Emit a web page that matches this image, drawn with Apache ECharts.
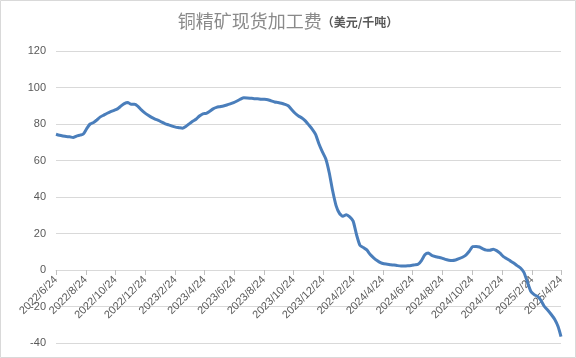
<!DOCTYPE html>
<html><head><meta charset="utf-8">
<script src="https://cdn.jsdelivr.net/npm/echarts@6/dist/echarts.min.js"></script>
<style>html,body{margin:0;padding:0;background:#fff}#c{width:576px;height:358px}</style>
</head><body><div id="c"></div>
<script>
const titleMain = '铜精矿现货加工费';
const titleUnit = '（美元/千吨）';
const dates = [
'2022-06-24','2022-07-01','2022-07-08','2022-07-15','2022-07-22','2022-07-29','2022-08-05','2022-08-12','2022-08-19','2022-08-26',
'2022-09-02','2022-09-09','2022-09-16','2022-09-23','2022-09-30','2022-10-07','2022-10-14','2022-10-21','2022-10-28','2022-11-04',
'2022-11-11','2022-11-18','2022-11-25','2022-12-02','2022-12-09','2022-12-16','2022-12-23','2022-12-30',
'2023-01-06','2023-01-13','2023-01-20','2023-01-27','2023-02-03','2023-02-10','2023-02-17','2023-02-24','2023-03-03','2023-03-10',
'2023-03-17','2023-03-24','2023-03-31','2023-04-07','2023-04-14','2023-04-21','2023-04-28','2023-05-05','2023-05-12','2023-05-19',
'2023-05-26','2023-06-02','2023-06-09','2023-06-16','2023-06-23','2023-06-30','2023-07-07','2023-07-14','2023-07-21','2023-07-28',
'2023-08-04','2023-08-11','2023-08-18','2023-08-25','2023-09-01','2023-09-08','2023-09-15','2023-09-22','2023-09-29','2023-10-06',
'2023-10-13','2023-10-20','2023-10-27','2023-11-03','2023-11-10','2023-11-17','2023-11-24','2023-12-01','2023-12-08','2023-12-15',
'2023-12-22','2023-12-29',
'2024-01-05','2024-01-12','2024-01-19','2024-01-26','2024-02-02','2024-02-09','2024-02-16','2024-02-23','2024-03-01','2024-03-08',
'2024-03-15','2024-03-22','2024-03-29','2024-04-05','2024-04-12','2024-04-19','2024-04-26','2024-05-03','2024-05-10','2024-05-17',
'2024-05-24','2024-05-31','2024-06-07','2024-06-14','2024-06-21','2024-06-28','2024-07-05','2024-07-12','2024-07-19','2024-07-26',
'2024-08-02','2024-08-09','2024-08-16','2024-08-23','2024-08-30','2024-09-06','2024-09-13','2024-09-20','2024-09-27','2024-10-04',
'2024-10-11','2024-10-18','2024-10-25','2024-11-01','2024-11-08','2024-11-15','2024-11-22','2024-11-29','2024-12-06','2024-12-13',
'2024-12-20','2024-12-27',
'2025-01-03','2025-01-10','2025-01-17','2025-01-24','2025-01-31','2025-02-07','2025-02-14','2025-02-21','2025-02-28','2025-03-07',
'2025-03-14','2025-03-21','2025-03-28','2025-04-04','2025-04-11','2025-04-18','2025-04-24'
];
const tcValues = [
74.4,73.8,73.4,73.1,73.0,72.6,73.4,73.9,74.5,77.5,
80.0,80.8,82.3,83.9,84.9,85.9,86.8,87.5,88.3,89.8,
91.2,91.8,90.8,90.8,89.7,87.7,86.1,84.8,
83.6,82.7,82.0,81.0,80.1,79.5,78.8,78.3,78.0,77.7,
78.6,80.1,81.5,82.6,84.4,85.6,85.8,87.0,88.3,89.1,
89.5,89.9,90.4,91.0,91.7,92.6,93.6,94.4,94.3,94.1,
93.9,93.8,93.6,93.5,93.3,92.7,92.1,91.8,91.4,90.8,
90.0,87.9,85.9,84.4,83.3,81.7,79.5,77.2,74.3,69.0,
64.7,60.8,
53.3,43.4,35.3,31.0,29.4,30.3,29.1,26.8,19.3,13.5,
12.3,11.0,8.5,6.7,5.2,4.0,3.4,3.2,2.9,2.7,
2.4,2.2,2.2,2.3,2.5,2.8,3.1,5.2,8.3,9.3,
8.0,7.4,7.0,6.5,5.8,5.4,5.2,5.5,6.2,7.0,
8.2,10.3,12.8,12.9,12.6,11.6,10.9,10.8,11.4,10.6,
9.2,7.3,
6.2,5.0,3.8,2.4,1.1,-1.3,-6.5,-11.6,-13.5,-14.5,
-16.7,-20.0,-22.1,-24.4,-27.0,-31.0,-36.5
];
const xTickLabels = [
'2022-06-24','2022-08-24','2022-10-24','2022-12-24','2023-02-24','2023-04-24',
'2023-06-24','2023-08-24','2023-10-24','2023-12-24','2024-02-24','2024-04-24',
'2024-06-24','2024-08-24','2024-10-24','2024-12-24','2025-02-24','2025-04-24'
];
const yMin = -40, yMax = 120, yStep = 20;

function toTime(s){ const p = s.split('-').map(Number); return Date.UTC(p[0], p[1]-1, p[2]); }
function fmt(v){ const d = new Date(v); return d.getUTCFullYear()+'/'+(d.getUTCMonth()+1)+'/'+d.getUTCDate(); }
const tickTimes = xTickLabels.map(toTime);
const seriesData = dates.map((d,i)=>[toTime(d), tcValues[i]]);

const gridTop = 51, gridBottom = 15, chartH = 358;
// place the date axis line on the y = 0 gridline
const plotH = chartH - gridTop - gridBottom;
const zeroOffset = -Math.round(plotH * (0 - yMin) / (yMax - yMin));

const chart = echarts.init(document.getElementById('c'), null, {renderer:'canvas'});
chart.setOption({
  animation:false,
  backgroundColor:'#ffffff',
  textStyle:{fontFamily:'"Noto Sans CJK SC", "Liberation Sans", sans-serif'},
  title:{
    text:'{a|'+titleMain+'}{b|'+titleUnit+'}',
    left:'center', top:7,
    textStyle:{rich:{
      a:{fontSize:18,color:'#8a8a8a',fontFamily:'"Noto Sans CJK SC", sans-serif',fontWeight:'normal'},
      b:{fontSize:12,color:'#595959',fontFamily:'"Noto Sans CJK SC", sans-serif',padding:[3,0,0,0]}
    }}
  },
  graphic:[{type:'rect',shape:{x:0.5,y:0.5,width:575,height:357},style:{fill:null,stroke:'#d9d9d9',lineWidth:1},silent:true}],
  grid:{left:56,right:15,top:gridTop,bottom:gridBottom,containLabel:false},
  xAxis:{
    type:'value', position:'bottom', offset:zeroOffset,
    min:tickTimes[0], max:tickTimes[tickTimes.length-1],
    axisLine:{onZero:false,lineStyle:{color:'#d9d9d9',width:1}},
    axisTick:{show:true,customValues:tickTimes,length:5,lineStyle:{color:'#bfbfbf'}},
    axisLabel:{customValues:tickTimes,rotate:45,formatter:function(v){return fmt(v);},color:'#595959',fontSize:11,margin:8,fontFamily:'"Liberation Sans", sans-serif',showMinLabel:true,showMaxLabel:true},
    splitLine:{show:false}
  },
  yAxis:{
    type:'value', min:yMin, max:yMax, interval:yStep,
    axisLine:{show:false,onZero:false}, axisTick:{show:false},
    axisLabel:{color:'#595959',fontSize:11,margin:10,fontFamily:'"Liberation Sans", sans-serif'},
    splitLine:{lineStyle:{color:'#d9d9d9',width:1}}
  },
  series:[{
    type:'line', data:seriesData, showSymbol:false, smooth:0.2,
    lineStyle:{color:'#4a7ebb',width:3},
    itemStyle:{color:'#4a7ebb'}
  }]
});
</script></body></html>
